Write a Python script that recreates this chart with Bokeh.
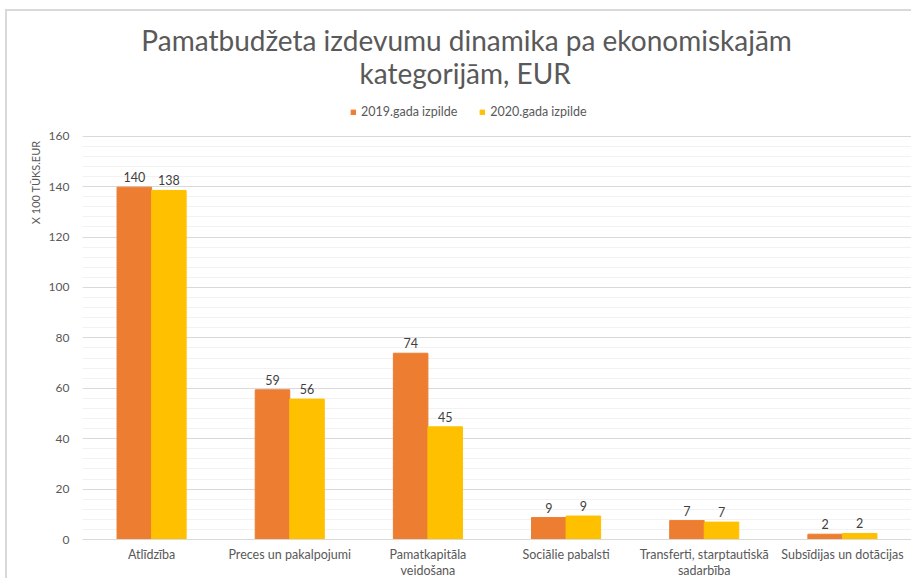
from bokeh.plotting import figure
from bokeh.models import (ColumnDataSource, FactorRange, Range1d, LabelSet, Label,
                          Legend, LegendItem, FixedTicker, Title, CategoricalAxis)
from bokeh.core.properties import value
from bokeh.transform import dodge
from bokeh.embed import file_html
from bokeh.resources import INLINE

categories = ["Atlīdzība", "Preces un pakalpojumi", "Pamatkapitāla veidošana",
              "Sociālie pabalsti", "Transferti, starptautiskā sadarbība",
              "Subsīdijas un dotācijas"]
# category labels as shown on two lines (second-line factors must be unique)
tick_line1 = ["Atlīdzība", "Preces un pakalpojumi", "Pamatkapitāla",
              "Sociālie pabalsti", "Transferti, starptautiskā",
              "Subsīdijas un dotācijas"]
tick_line2 = [" ", "  ", "veidošana", "   ", "sadarbība", "    "]
series_2019 = [139.8, 59.4, 73.9, 8.7, 7.5, 2.1]
series_2020 = [138.5, 55.7, 44.7, 9.3, 6.9, 2.4]
labels_2019 = ["140", "59", "74", "9", "7", "2"]
labels_2020 = ["138", "56", "45", "9", "7", "2"]
series_names = ["2019.gada izpilde", "2020.gada izpilde"]
title_lines = ["Pamatbudžeta izdevumu dinamika pa ekonomiskajām", "kategorijām, EUR"]
y_title = "X 100 TŪKS.EUR"
y_ticks = [0, 20, 40, 60, 80, 100, 120, 140, 160]

FONT = "Lato"
ORANGE = "#ED7D31"
YELLOW = "#FFC000"
GREY = "#595959"

src = ColumnDataSource(dict(cat=tick_line1, name=categories, a=series_2019,
                            b=series_2020, la=labels_2019, lb=labels_2020))

# frame spans the title area too; value axis 0..160 occupies the lower part
Y_TOP = 209.1
p = figure(x_range=FactorRange(*tick_line1, range_padding=0),
           y_range=Range1d(0, Y_TOP),
           width=906, height=569, output_backend="svg", toolbar_location=None,
           min_border_left=75, min_border_right=2, min_border_top=1,
           min_border_bottom=38)
p.extra_x_ranges = {"line2": FactorRange(*tick_line2, range_padding=0)}
p.styles = {"margin-left": "5px", "margin-top": "9px",
            "border-left": "2px solid #d9d9d9", "border-top": "2px solid #d9d9d9"}
p.outline_line_color = None

r1 = p.vbar(x=dodge("cat", -0.125, range=p.x_range), top="a", width=0.25,
            source=src, color=ORANGE)
r2 = p.vbar(x=dodge("cat", 0.125, range=p.x_range), top="b", width=0.25,
            source=src, color=YELLOW)

for col, lab, off in (("a", "la", -0.125), ("b", "lb", 0.125)):
    p.add_layout(LabelSet(x=dodge("cat", off, range=p.x_range), y=col, text=lab,
                          source=src, y_offset=5, text_align="center",
                          text_baseline="bottom", text_font=value(FONT),
                          text_font_size=value("12.5px"),
                          text_color=value("#404040")))

# y axis
p.yaxis.ticker = FixedTicker(ticks=y_ticks,
                             minor_ticks=list(range(0, 161, 4)))
p.yaxis.axis_line_color = None
p.yaxis.major_tick_line_color = None
p.yaxis.minor_tick_line_color = None
p.yaxis.major_tick_out = 0
p.yaxis.minor_tick_out = 0
p.yaxis.major_label_standoff = 13
p.yaxis.major_label_text_font = FONT
p.yaxis.major_label_text_font_size = "12px"
p.yaxis.major_label_text_color = GREY

# x axis (first line of labels)
xa = p.xaxis[0]
xa.axis_line_color = "#d9d9d9"
xa.major_tick_line_color = None
xa.minor_tick_line_color = None
xa.major_tick_out = 0
xa.major_tick_in = 0
xa.major_label_standoff = 7
xa.major_label_text_font = FONT
xa.major_label_text_font_size = "12.5px"
xa.major_label_text_color = GREY

# second line of x labels
xa2 = CategoricalAxis(x_range_name="line2", axis_line_color=None,
                      major_tick_line_color=None, minor_tick_line_color=None,
                      major_tick_out=0, major_tick_in=0, major_label_standoff=-2,
                      major_label_text_font=FONT, major_label_text_font_size="12.5px",
                      major_label_text_color=GREY)
p.add_layout(xa2, "below")

p.xgrid.grid_line_color = None
p.ygrid.grid_line_color = "#d9d9d9"
p.ygrid.minor_grid_line_color = "#f2f2f2"

# chart title (two lines)
p.add_layout(Label(x=2.78, y=198.0, text=title_lines[0], text_align="center",
                   text_baseline="alphabetic", text_font=FONT,
                   text_font_size="28px", text_color=GREY))
p.add_layout(Label(x=2.77, y=185.0, text=title_lines[1], text_align="center",
                   text_baseline="alphabetic", text_font=FONT,
                   text_font_size="28px", text_color=GREY))

legend = Legend(items=[LegendItem(label=series_names[0], renderers=[r1]),
                       LegendItem(label=series_names[1], renderers=[r2])],
                orientation="horizontal", location=(268, 420),
                glyph_width=6, glyph_height=6, label_text_font=FONT,
                label_text_font_size="12.5px", label_text_color=GREY,
                background_fill_alpha=0, border_line_color=None, spacing=22,
                label_standoff=5, padding=0, margin=0)
p.add_layout(legend, "center")

p.add_layout(Title(text=y_title, align="right", offset=128, standoff=8,
                   text_font=FONT, text_font_size="11px", text_font_style="normal",
                   text_color=GREY), "left")

open("out.html", "w").write(file_html(p, INLINE))
